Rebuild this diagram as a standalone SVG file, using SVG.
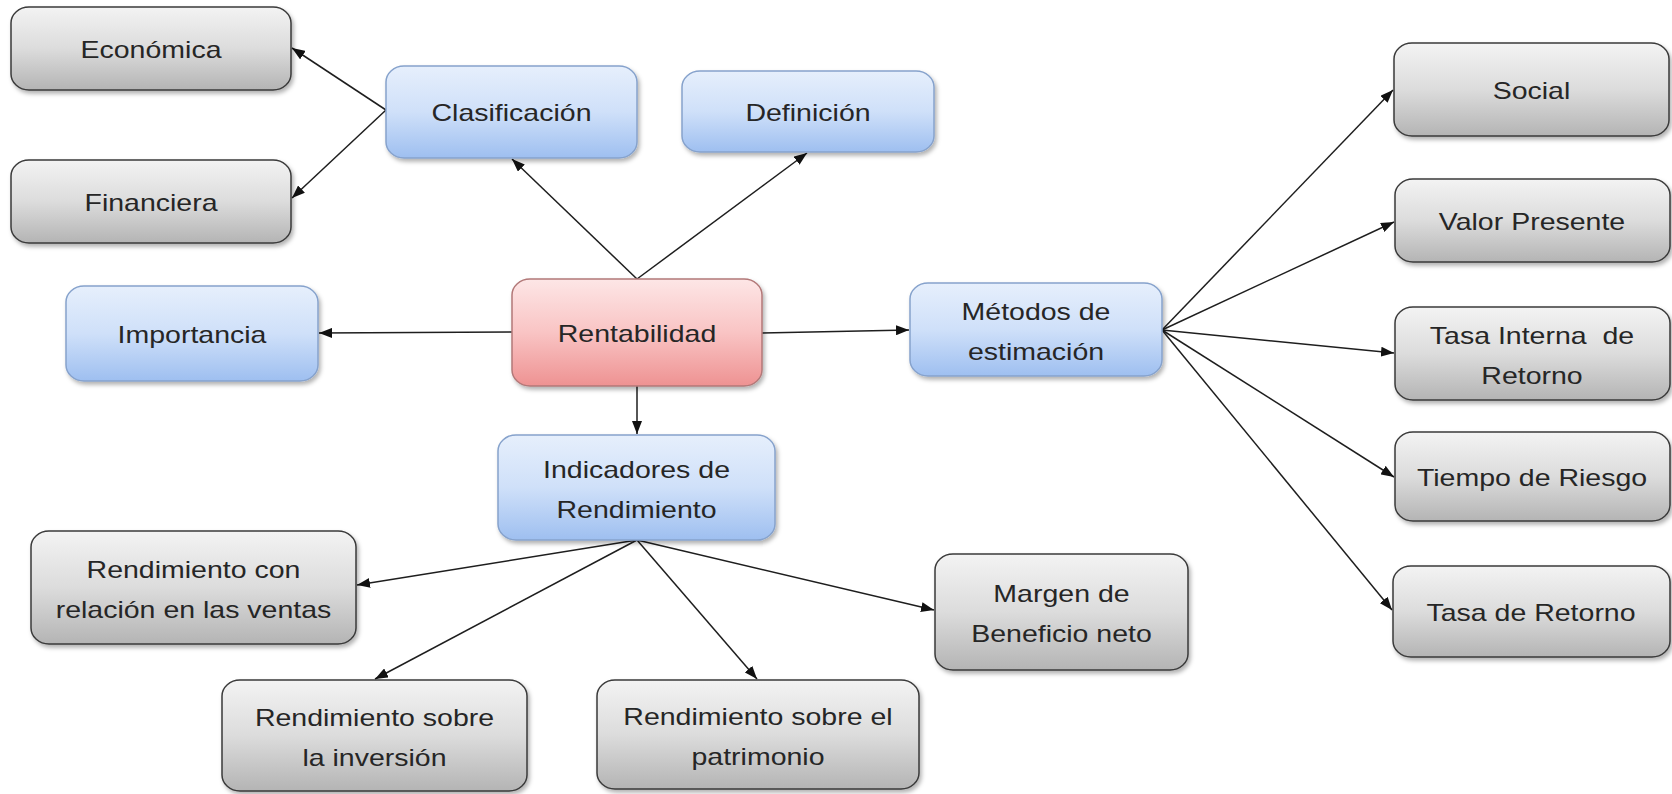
<svg xmlns="http://www.w3.org/2000/svg" width="1672" height="794" viewBox="0 0 1672 794">
<defs>
<linearGradient id="gGray" x1="0" y1="0" x2="0" y2="1"><stop offset="0" stop-color="#f3f3f3"/><stop offset="0.5" stop-color="#dcdcdc"/><stop offset="1" stop-color="#b4b4b4"/></linearGradient>
<linearGradient id="gBlue" x1="0" y1="0" x2="0" y2="1"><stop offset="0" stop-color="#e6effc"/><stop offset="0.5" stop-color="#cfe0f9"/><stop offset="1" stop-color="#9ebff0"/></linearGradient>
<linearGradient id="gRed" x1="0" y1="0" x2="0" y2="1"><stop offset="0" stop-color="#fde6e6"/><stop offset="0.5" stop-color="#f9c4c4"/><stop offset="1" stop-color="#ee9292"/></linearGradient>
<filter id="sh" x="-10%" y="-10%" width="125%" height="135%"><feDropShadow dx="2" dy="3" stdDeviation="2" flood-color="#000" flood-opacity="0.3"/></filter>
<marker id="ah" markerUnits="userSpaceOnUse" markerWidth="14" markerHeight="10" refX="13" refY="5" orient="auto"><path d="M0,0 L13,5 L0,10 Z" fill="#111"/></marker>
<style>
.box{filter:url(#sh);stroke-width:1.5}
.gray{fill:url(#gGray);stroke:#3a3a3a}
.blue{fill:url(#gBlue);stroke:#86a2cc}
.red{fill:url(#gRed);stroke:#b27878}
.t{font-family:"Liberation Sans",Arial,sans-serif;font-size:23px;fill:#262626;text-anchor:middle}
.c{stroke:#1e1e1e;stroke-width:1.5;fill:none;marker-end:url(#ah)}
</style>
</defs>
<rect width="1672" height="794" fill="#ffffff"/>
<g id="connectors">
<line class="c" x1="637" y1="279" x2="512" y2="159"/>
<line class="c" x1="637" y1="279" x2="807" y2="153"/>
<line class="c" x1="512" y1="332" x2="319" y2="333"/>
<line class="c" x1="762" y1="333" x2="909" y2="330"/>
<line class="c" x1="637" y1="386" x2="637" y2="434"/>
<line class="c" x1="386" y1="110" x2="292" y2="48"/>
<line class="c" x1="386" y1="110" x2="292" y2="198"/>
<line class="c" x1="1162" y1="330" x2="1393" y2="90"/>
<line class="c" x1="1162" y1="330" x2="1394" y2="222"/>
<line class="c" x1="1162" y1="330" x2="1394" y2="353"/>
<line class="c" x1="1162" y1="330" x2="1394" y2="477"/>
<line class="c" x1="1162" y1="330" x2="1392" y2="610"/>
<line class="c" x1="637" y1="540" x2="357" y2="585"/>
<line class="c" x1="637" y1="540" x2="375" y2="679"/>
<line class="c" x1="637" y1="540" x2="757" y2="679"/>
<line class="c" x1="637" y1="540" x2="934" y2="610"/>
</g>
<g id="economica"><rect class="box gray" x="11" y="7" width="280" height="83" rx="18" ry="16"/><text class="t" transform="translate(151,57.5) scale(1.24,1)">Económica</text></g>
<g id="financiera"><rect class="box gray" x="11" y="160" width="280" height="83" rx="18" ry="16"/><text class="t" transform="translate(151,210.5) scale(1.24,1)">Financiera</text></g>
<g id="clasificacion"><rect class="box blue" x="386" y="66" width="251" height="92" rx="18" ry="16"/><text class="t" transform="translate(511.5,121) scale(1.24,1)">Clasificación</text></g>
<g id="definicion"><rect class="box blue" x="682" y="71" width="252" height="81" rx="18" ry="16"/><text class="t" transform="translate(808,120.5) scale(1.24,1)">Definición</text></g>
<g id="importancia"><rect class="box blue" x="66" y="286" width="252" height="95" rx="18" ry="16"/><text class="t" transform="translate(192,342.5) scale(1.24,1)">Importancia</text></g>
<g id="rentabilidad"><rect class="box red" x="512" y="279" width="250" height="107" rx="18" ry="16"/><text class="t" transform="translate(637,342) scale(1.24,1)">Rentabilidad</text></g>
<g id="metodos"><rect class="box blue" x="910" y="283" width="252" height="93" rx="18" ry="16"/><text class="t" transform="translate(1036,319.5) scale(1.24,1)">Métodos de</text><text class="t" transform="translate(1036,359.5) scale(1.24,1)">estimación</text></g>
<g id="indicadores"><rect class="box blue" x="498" y="435" width="277" height="105" rx="18" ry="16"/><text class="t" transform="translate(636.5,477.5) scale(1.24,1)">Indicadores de</text><text class="t" transform="translate(636.5,517.5) scale(1.24,1)">Rendimiento</text></g>
<g id="social"><rect class="box gray" x="1394" y="43" width="275" height="93" rx="18" ry="16"/><text class="t" transform="translate(1531.5,98.5) scale(1.24,1)">Social</text></g>
<g id="valor-presente"><rect class="box gray" x="1395" y="179" width="275" height="83" rx="18" ry="16"/><text class="t" transform="translate(1532,229.5) scale(1.24,1)">Valor Presente</text></g>
<g id="tasa-interna"><rect class="box gray" x="1395" y="307" width="275" height="93" rx="18" ry="16"/><text class="t" xml:space="preserve" transform="translate(1532,343.5) scale(1.24,1)">Tasa Interna  de</text><text class="t" transform="translate(1532,383.5) scale(1.24,1)">Retorno</text></g>
<g id="tiempo-riesgo"><rect class="box gray" x="1395" y="432" width="275" height="89" rx="18" ry="16"/><text class="t" transform="translate(1532,485.5) scale(1.24,1)">Tiempo de Riesgo</text></g>
<g id="tasa-retorno"><rect class="box gray" x="1393" y="566" width="277" height="91" rx="18" ry="16"/><text class="t" transform="translate(1531,620.5) scale(1.24,1)">Tasa de Retorno</text></g>
<g id="rend-ventas"><rect class="box gray" x="31" y="531" width="325" height="113" rx="18" ry="16"/><text class="t" transform="translate(193.5,577.5) scale(1.24,1)">Rendimiento con</text><text class="t" transform="translate(193.5,617.5) scale(1.24,1)">relación en las ventas</text></g>
<g id="margen"><rect class="box gray" x="935" y="554" width="253" height="116" rx="18" ry="16"/><text class="t" transform="translate(1061.5,602) scale(1.24,1)">Margen de</text><text class="t" transform="translate(1061.5,642) scale(1.24,1)">Beneficio neto</text></g>
<g id="rend-inversion"><rect class="box gray" x="222" y="680" width="305" height="111" rx="18" ry="16"/><text class="t" transform="translate(374.5,725.5) scale(1.24,1)">Rendimiento sobre</text><text class="t" transform="translate(374.5,765.5) scale(1.24,1)">la inversión</text></g>
<g id="rend-patrimonio"><rect class="box gray" x="597" y="680" width="322" height="109" rx="18" ry="16"/><text class="t" transform="translate(758,724.5) scale(1.24,1)">Rendimiento sobre el</text><text class="t" transform="translate(758,764.5) scale(1.24,1)">patrimonio</text></g>
</svg>
